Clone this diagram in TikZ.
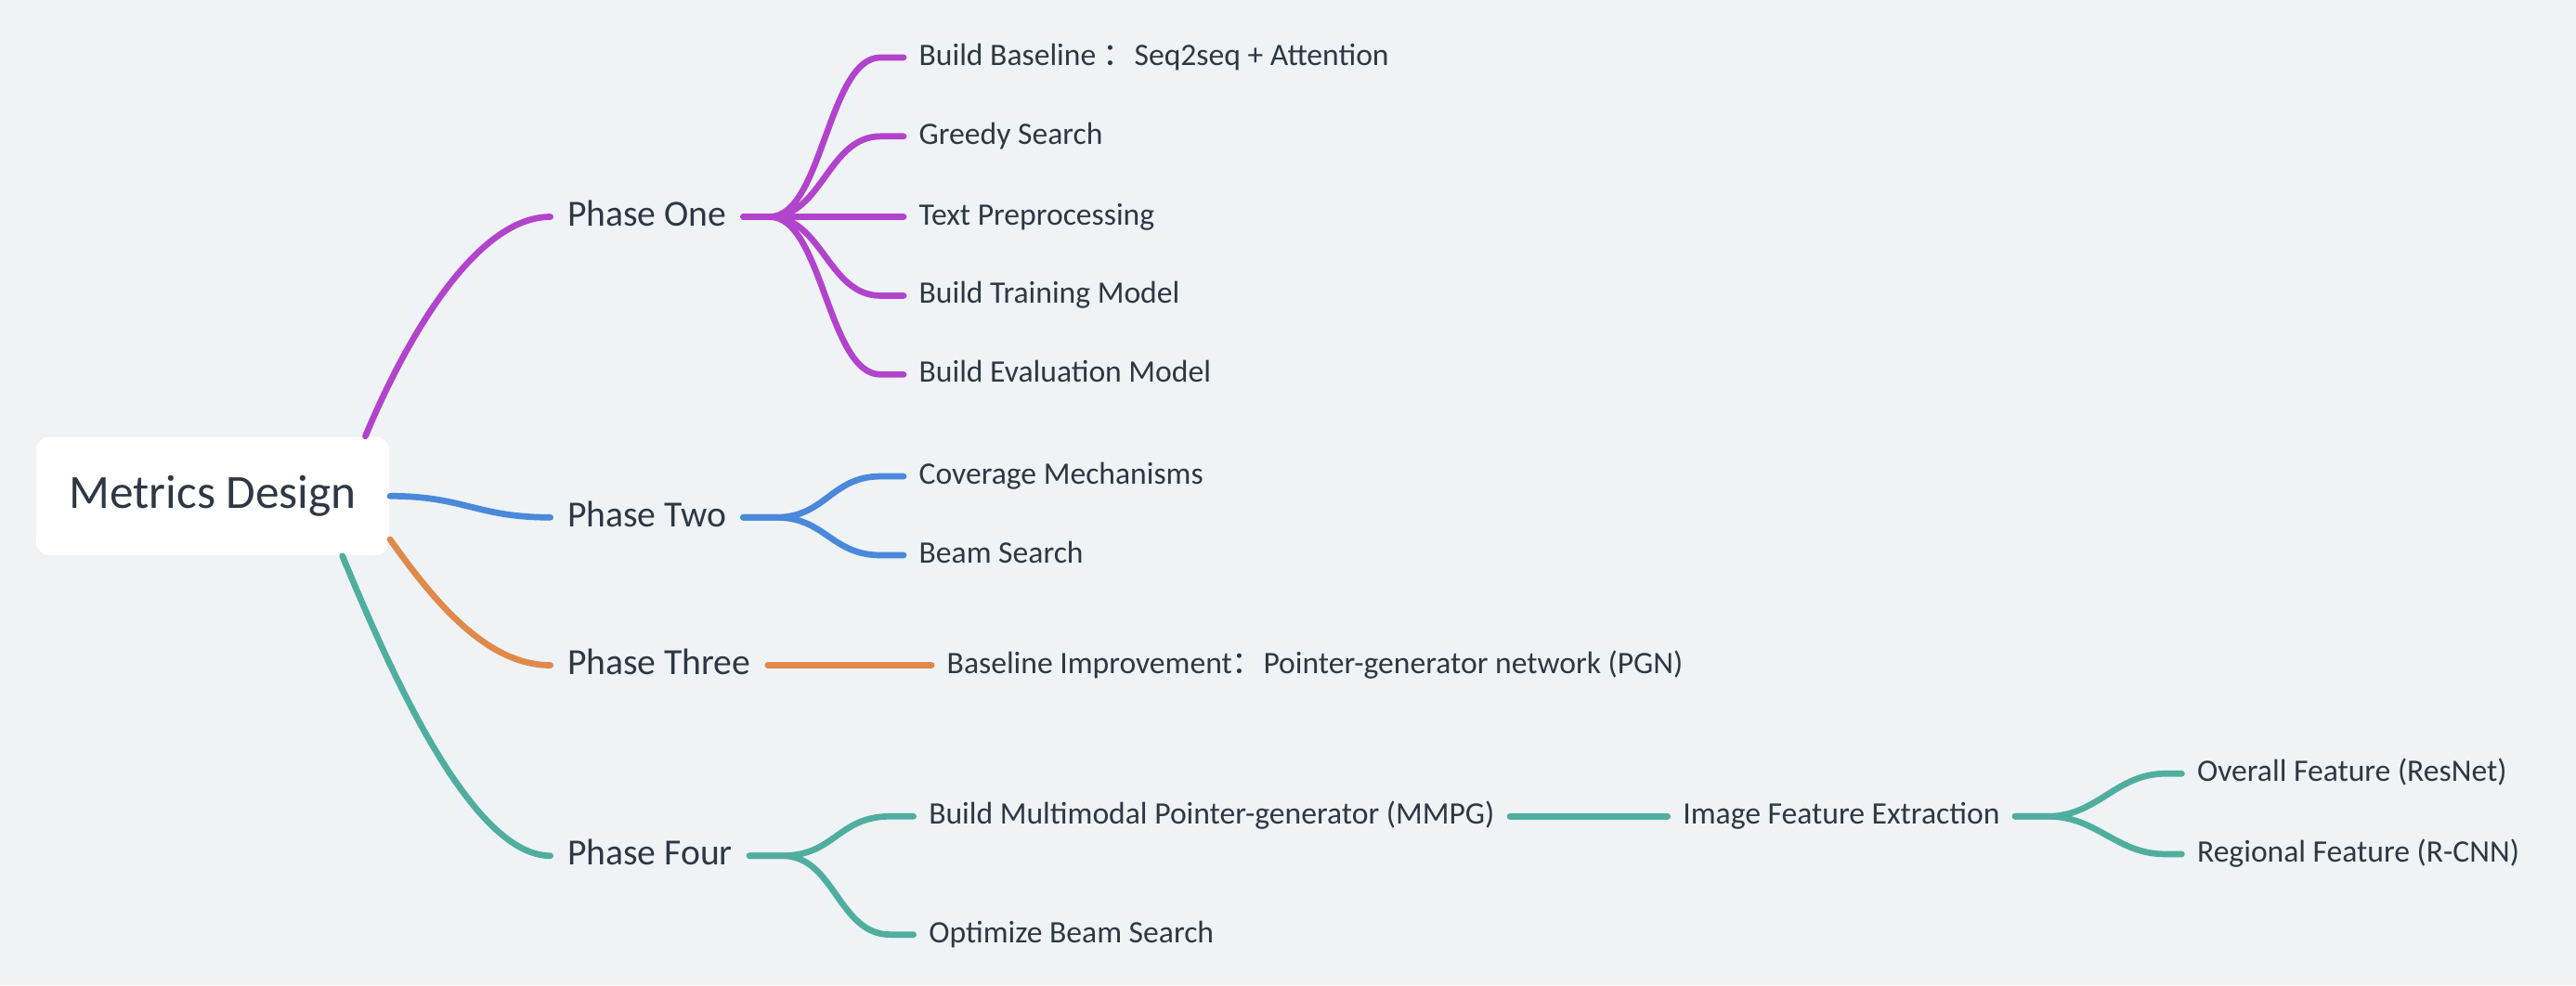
\documentclass[tikz,border=0pt]{standalone}
\usepackage{fontspec}
\setmainfont{Carlito}
\newfontfamily\cjk{Noto Sans CJK SC}
\definecolor{bgcol}{HTML}{EFF3F6}
\definecolor{inkcol}{HTML}{2F3744}
\definecolor{violetcol}{HTML}{B243CC}
\definecolor{bluecol}{HTML}{4A88DA}
\definecolor{orangecol}{HTML}{E0894A}
\definecolor{tealcol}{HTML}{50AE9F}

\begin{document}
\begin{tikzpicture}[x=0.5pt,y=-0.5pt]
\tikzset{rootbox/.style=
            {fill=white,rounded corners=4pt,minimum width=107.5pt,minimum height=36pt,
             text=inkcol,font=\fontsize{14.5}{16}\selectfont},
         phasenode/.style=
            {anchor=west,inner xsep=5pt,inner ysep=0pt,text height=8pt,text depth=2.4pt,
             text=inkcol,font=\fontsize{11.2}{13}\selectfont},
         leafnode/.style=
            {anchor=west,inner xsep=4.5pt,inner ysep=0pt,text height=6.8pt,text depth=2pt,
             text=inkcol,font=\fontsize{9.5}{11}\selectfont},
         branch/.style=
            {line width=1.9pt,line cap=round}}
\fill[bgcol] (0,0) rectangle (1568,600);
\useasboundingbox (0,0) rectangle (1568,600);

\node[rootbox] (root) at (129.5,302) {Metrics Design};

\node[phasenode] (one) at (335,132) {Phase One};
\node[phasenode] (two) at (335,315) {Phase Two};
\node[phasenode] (three) at (335,405) {Phase Three};
\node[phasenode] (four) at (335,521) {Phase Four};

% phase one
\node[leafnode] (baseline) at (550,35) {Build Baseline {\cjk ：}Seq2seq + Attention};
\node[leafnode] (greedy) at (550,83) {Greedy Search};
\node[leafnode] (textprep) at (550,132) {Text Preprocessing};
\node[leafnode] (training) at (550,180) {Build Training Model};
\node[leafnode] (evaluation) at (550,228) {Build Evaluation Model};
% phase two
\node[leafnode] (coverage) at (550,290) {Coverage Mechanisms};
\node[leafnode] (beam) at (550,338) {Beam Search};
% phase three
\node[leafnode] (pgn) at (567,405) {Baseline Improvement{\cjk ：}Pointer-generator network (PGN)};
% phase four
\node[leafnode] (mmpg) at (556,497) {Build Multimodal Pointer-generator (MMPG)};
\node[leafnode] (optbeam) at (556,569) {Optimize Beam Search};
\node[leafnode] (imgfeat) at (1015,497) {Image Feature Extraction};
\node[leafnode] (overall) at (1328,471) {Overall Feature (ResNet)};
\node[leafnode] (regional) at (1328,520) {Regional Feature (R-CNN)};

\begin{scope}[branch]
\draw[violetcol] ([xshift=-7.5pt]root.north east) .. controls +(25,-60) and +(-45,0) .. (one.west);
\draw[bluecol] (root.east) .. controls +(45,0) and +(-45,0) .. (two.west);
\draw[orangecol] ([yshift=5pt]root.south east) .. controls +(25,35) and +(-40,0) .. (three.west);
\draw[tealcol] ([xshift=-14.5pt]root.south east) .. controls +(25,60) and +(-50,0) .. (four.west);

\foreach \leaf in {baseline,greedy,textprep,training,evaluation}
    \draw[violetcol] (one.east) -- ++(16,0) .. controls +(32,0) and +(-32,0) .. ([xshift=-7pt]\leaf.west) -- (\leaf.west);
\foreach \leaf in {coverage,beam}
    \draw[bluecol] (two.east) -- ++(20,0) .. controls +(30,0) and +(-30,0) .. ([xshift=-7pt]\leaf.west) -- (\leaf.west);
\draw[orangecol] (three.east) -- (pgn.west);
\foreach \leaf in {mmpg,optbeam}
    \draw[tealcol] (four.east) -- ++(20,0) .. controls +(32,0) and +(-32,0) .. ([xshift=-7pt]\leaf.west) -- (\leaf.west);
\draw[tealcol] (mmpg.east) -- (imgfeat.west);
\foreach \leaf in {overall,regional}
    \draw[tealcol] (imgfeat.east) -- ++(20,0) .. controls +(30,0) and +(-30,0) .. ([xshift=-5pt]\leaf.west) -- (\leaf.west);
\end{scope}
\end{tikzpicture}
\end{document}
